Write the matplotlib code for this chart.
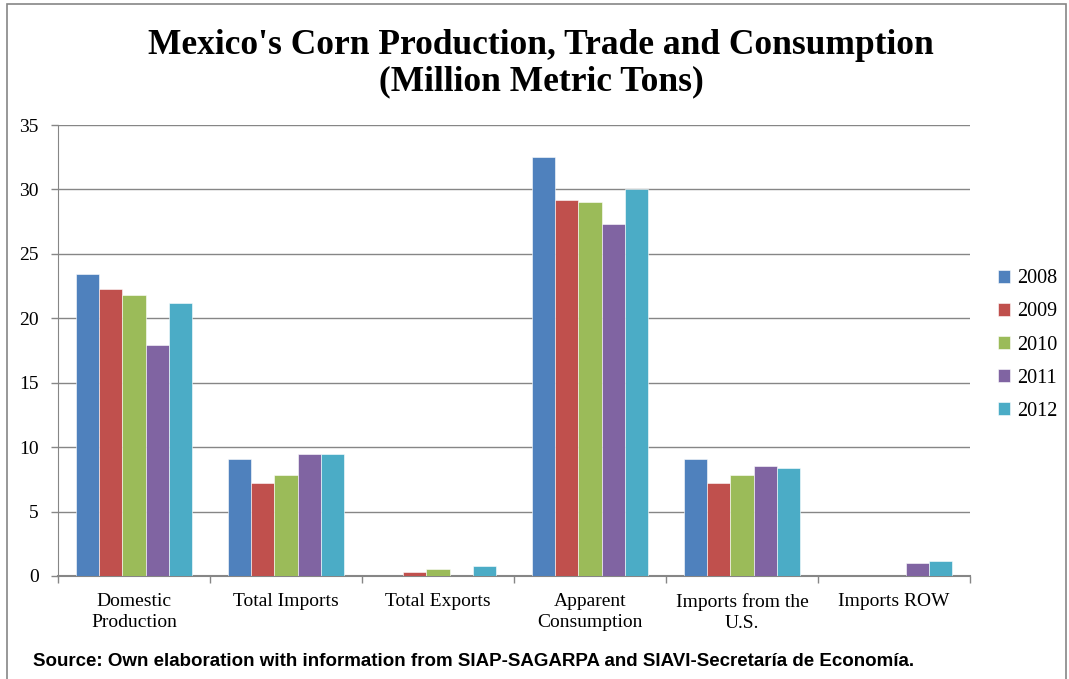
import matplotlib
matplotlib.use("Agg")
import matplotlib.pyplot as plt
import numpy as np
from matplotlib.patches import Rectangle

categories = ["Domestic\nProduction", "Total Imports", "Total Exports",
              "Apparent\nConsumption", "Imports from the\nU.S.", "Imports ROW"]
years = ["2008", "2009", "2010", "2011", "2012"]
v2008 = [23.4, 9.1, 0.0, 32.5, 9.1, 0.0]
v2009 = [22.3, 7.2, 0.3, 29.2, 7.2, 0.0]
v2010 = [21.8, 7.8, 0.55, 29.0, 7.8, 0.0]
v2011 = [17.9, 9.5, 0.0, 27.3, 8.5, 1.0]
v2012 = [21.2, 9.5, 0.75, 30.0, 8.4, 1.15]
series = [v2008, v2009, v2010, v2011, v2012]
colors = ["#4F81BD", "#C0504D", "#9BBB59", "#8064A2", "#4BACC6"]
yticks = [0, 5, 10, 15, 20, 25, 30, 35]

serif = ["Liberation Serif", "DejaVu Serif"]

fig = plt.figure(figsize=(10.69, 6.79), dpi=100)
W, H = 1069, 679
ax = fig.add_axes([58 / W, 1 - 576 / H, (970 - 58) / W, (576 - 125) / H])

x = np.arange(len(categories))
bw = 0.153
for i, (vals, c, yr) in enumerate(zip(series, colors, years)):
    ax.bar(x + (i - 2) * bw, vals, width=bw, color=c, label=yr,
           edgecolor="white", linewidth=0.4, zorder=3)

ax.set_xlim(-0.5, len(categories) - 0.5)
ax.set_ylim(0, 35)
ax.set_yticks(yticks)
ax.set_yticklabels([str(t) for t in yticks], fontfamily=serif, fontsize=14)
ax.yaxis.grid(True, color="#868686", linewidth=1.0, zorder=0)
ax.set_axisbelow(True)
ax.tick_params(axis="y", length=5, color="#868686", width=1, pad=9)

ax.set_xticks(np.arange(len(categories) + 1) - 0.5, minor=False)
ax.set_xticklabels([])
ax.set_xticks(x, minor=True)
ax.set_xticklabels(categories, minor=True, fontfamily=serif, fontsize=14,
                   linespacing=1.35)
ax.tick_params(axis="x", which="major", length=5, color="#868686", width=1)
ax.tick_params(axis="x", which="minor", length=0, pad=12)

for s in ["top", "right"]:
    ax.spines[s].set_visible(False)
ax.spines["left"].set_color("#868686")
ax.spines["bottom"].set_color("#868686")
ax.spines["bottom"].set_linewidth(1.5)

leg = ax.legend(loc="center left", bbox_to_anchor=(998 / W, 1 - 345 / H),
                bbox_transform=fig.transFigure, frameon=False,
                prop={"family": serif, "size": 14.5},
                handlelength=0.6, handleheight=0.6, labelspacing=0.7,
                handletextpad=0.35, borderaxespad=0, borderpad=0)

fig.text(541 / W, 1 - 64 / H,
         "Mexico's Corn Production, Trade and Consumption\n(Million Metric Tons)",
         ha="center", va="center", fontfamily=serif, fontweight="bold",
         fontsize=25.5, linespacing=1.13)

fig.text(33 / W, 1 - 661 / H,
         "Source: Own elaboration with information from SIAP-SAGARPA and SIAVI-Secretaría de Economía.",
         ha="left", va="center",
         fontfamily=["Liberation Sans Narrow", "Liberation Sans", "DejaVu Sans"],
         fontweight="bold", fontsize=13.5)

fig.patches.append(Rectangle((7 / W, -0.05), (1066 - 7) / W, 1.05 - 4 / H,
                             transform=fig.transFigure, fill=False,
                             edgecolor="#868686", linewidth=1.2))

fig.savefig("out.png", dpi=100)
